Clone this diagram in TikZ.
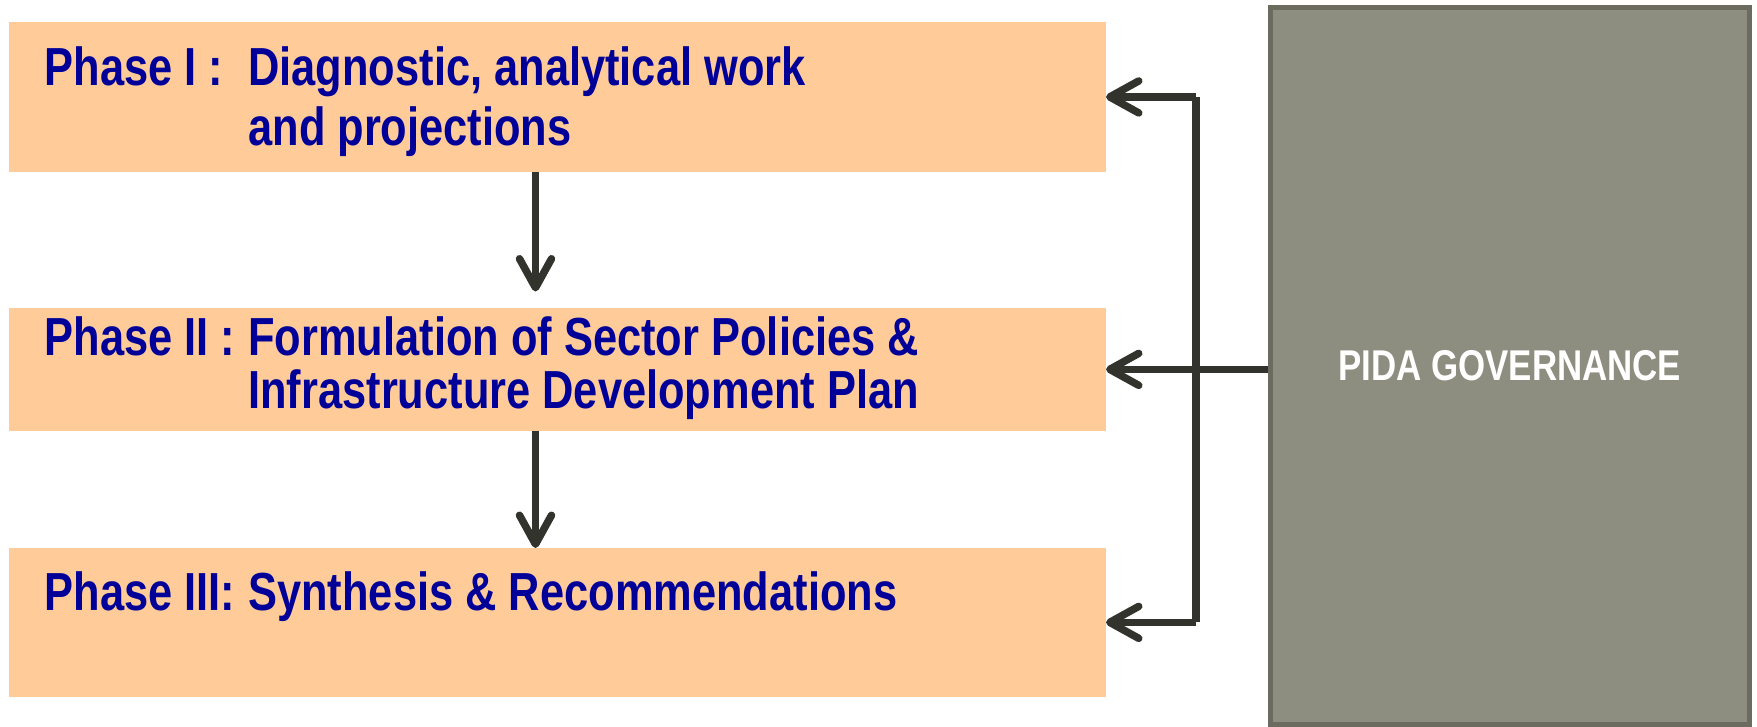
\documentclass[tikz,border=0pt]{standalone}
\usepackage{fontspec}
\usetikzlibrary{positioning,arrows.meta}

\newfontfamily\narrowsans[FakeStretch=0.81]{Liberation Sans}
\definecolor{peach}{HTML}{FFCB99}
\definecolor{phaseblue}{HTML}{000099}
\definecolor{arrowgray}{HTML}{33332E}
\definecolor{govfill}{HTML}{8E8E80}
\definecolor{govedge}{HTML}{6B6B5F}
\newcommand{\phasetag}[1]{\makebox[4.07cm][l]{#1}}

\tikzstyle{phasebox} = [fill=peach, rectangle, minimum width=21.93cm, inner sep=0pt, outer sep=0pt]
\tikzstyle{phasetext} = [text=phaseblue, font=\narrowsans\bfseries\fontsize{30.5}{34.5}\selectfont, align=left, inner sep=0pt, anchor=base west]
\tikzstyle{govbox} = [fill=govfill, draw=govedge, line width=0.1cm, rectangle, minimum width=9.59cm, minimum height=14.34cm, text=white, font=\narrowsans\bfseries\fontsize{24.5}{28}\selectfont]
\tikzstyle{line} = [draw, -{Straight Barb[length=0.58cm,width=0.64cm,round]}, line width=0.15cm, arrowgray]
\tikzstyle{bus} = [draw, line width=0.15cm, arrowgray]

\begin{document}
\begin{tikzpicture}
    \useasboundingbox (0,0) rectangle (35.14,-14.52);
    % Place nodes
    \node [phasebox, minimum height=2.982cm] (phase1) at (11.155,-1.939) {};
    \node [phasebox, minimum height=2.454cm, below=2.73cm of phase1] (phase2) {};
    \node [phasebox, minimum height=2.974cm, below=2.346cm of phase2] (phase3) {};
    \node [govbox] (gov) at (30.195,-7.32) {PIDA GOVERNANCE};
    \node [phasetext, below right=2.466cm and 0.70cm of phase1.north west, anchor=base west] (text1)
        {\phasetag{Phase I :}Diagnostic, analytical work\\\phasetag{}and projections};
    \node [phasetext, below right=2.006cm and 0.70cm of phase2.north west, anchor=base west] (text2)
        {\phasetag{Phase II :}Formulation of Sector Policies \&\\[-4.7pt]\phasetag{}Infrastructure Development Plan};
    \node [phasetext, below right=1.24cm and 0.70cm of phase3.north west, anchor=base west] (text3)
        {\phasetag{Phase III:}Synthesis \& Recommendations};
    \coordinate (flow) at (10.71,0);
    \coordinate (bus) at (23.92,0);
    \coordinate (bustop) at (bus |- phase1.east);
    \coordinate (busbot) at (bus |- phase3.east);
    % Draw edges
    \draw [line, shorten >=0.33cm] (phase1.south -| flow) -- (phase2.north -| flow);
    \draw [line] (phase2.south -| flow) -- (phase3.north -| flow);
    \draw [bus] (bustop) -- (busbot);
    \draw [line] (bustop) -- (phase1.east);
    \draw [line] (busbot) -- (phase3.east);
    \draw [line] (gov.west |- phase2.east) -- (phase2.east);
\end{tikzpicture}
\end{document}
